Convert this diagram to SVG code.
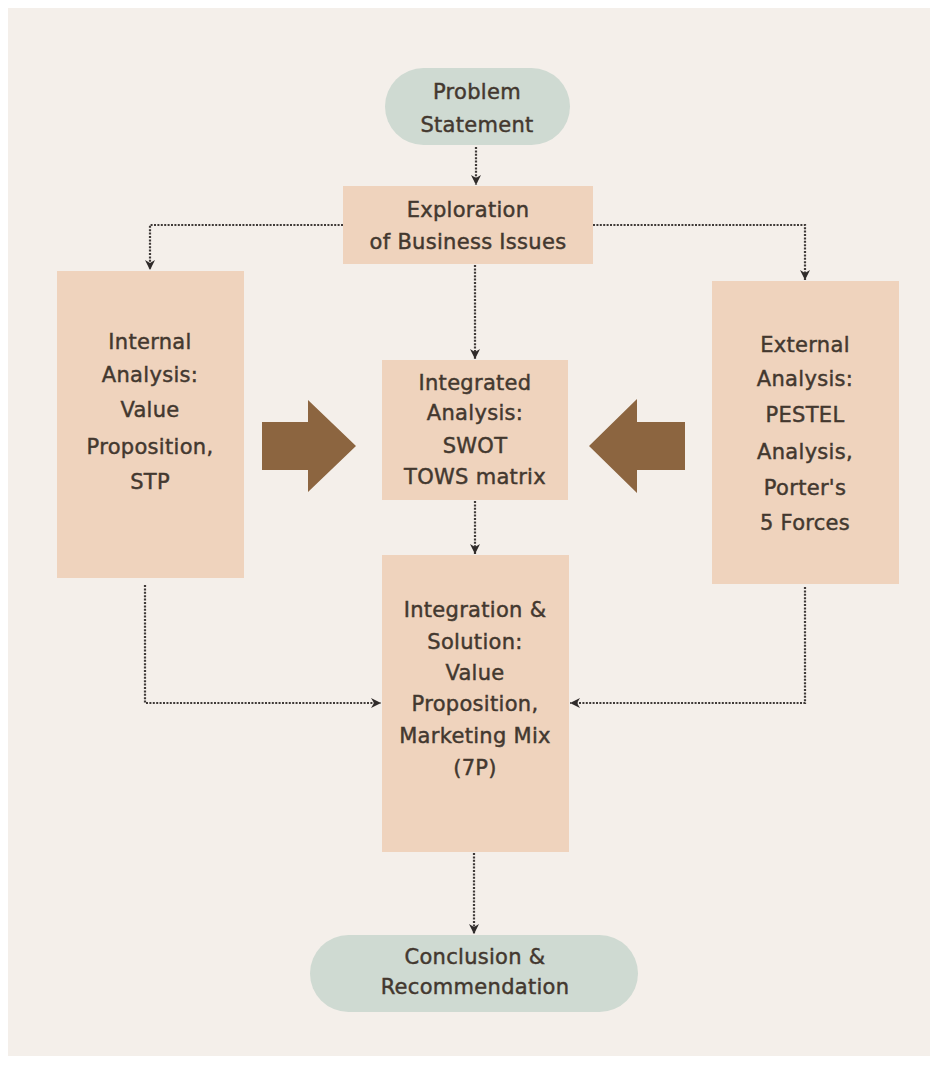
<svg xmlns="http://www.w3.org/2000/svg" width="938" height="1065" viewBox="0 0 938 1065">
  <style>
    .box { fill: #efd3bd; }
    .pill { fill: #cfdad2; }
    .t { font-family: "DejaVu Sans", "Liberation Sans", sans-serif; font-size: 21px; fill: #43382f; stroke: #43382f; stroke-width: 0.45; text-anchor: middle; letter-spacing: 0.3px; }
    .c { fill: none; stroke: #3f3a38; stroke-width: 2.2; stroke-dasharray: 2 1.4; }
    .big { fill: #8c6540; }
  </style>
  <defs>
    <marker id="ah" viewBox="0 0 10 10" refX="10" refY="5" markerWidth="10" markerHeight="10" orient="auto" markerUnits="userSpaceOnUse">
      <path d="M0,0 L10,5 L0,10 L3,5 Z" fill="#2f2b2a"/>
    </marker>
  </defs>
  <rect x="0" y="0" width="938" height="1065" fill="#ffffff"/>
  <rect x="8" y="8" width="922" height="1048" fill="#f4efea"/>

  <g id="connectors">
    <path class="c" d="M476 147 V185" marker-end="url(#ah)"/>
    <path class="c" d="M343 225 H150 V270" marker-end="url(#ah)"/>
    <path class="c" d="M593 225 H805 V280" marker-end="url(#ah)"/>
    <path class="c" d="M475 265 V359" marker-end="url(#ah)"/>
    <path class="c" d="M475 501 V554" marker-end="url(#ah)"/>
    <path class="c" d="M145 585 V703 H381" marker-end="url(#ah)"/>
    <path class="c" d="M805 587 V703 H570" marker-end="url(#ah)"/>
    <path class="c" d="M474 853 V934" marker-end="url(#ah)"/>
    <polygon class="big" points="262,422 308,422 308,400 356,446 308,492 308,470 262,470"/>
    <polygon class="big" points="685,422 637,422 637,399 589,446 637,493 637,470 685,470"/>
  </g>

  <g id="problem">
    <rect class="pill" x="385" y="68" width="185" height="77" rx="38.5"/>
    <text class="t" x="477" y="99">Problem</text>
    <text class="t" x="477" y="132">Statement</text>
  </g>

  <g id="exploration">
    <rect class="box" x="343" y="186" width="250" height="78"/>
    <text class="t" x="468" y="217">Exploration</text>
    <text class="t" x="468" y="249">of Business Issues</text>
  </g>

  <g id="internal">
    <rect class="box" x="57" y="271" width="187" height="307"/>
    <text class="t" x="150" y="349">Internal</text>
    <text class="t" x="150" y="382">Analysis:</text>
    <text class="t" x="150" y="417">Value</text>
    <text class="t" x="150" y="454">Proposition,</text>
    <text class="t" x="150" y="489">STP</text>
  </g>

  <g id="external">
    <rect class="box" x="712" y="281" width="187" height="303"/>
    <text class="t" x="805" y="352">External</text>
    <text class="t" x="805" y="386">Analysis:</text>
    <text class="t" x="805" y="422">PESTEL</text>
    <text class="t" x="805" y="459">Analysis,</text>
    <text class="t" x="805" y="495">Porter's</text>
    <text class="t" x="805" y="530">5 Forces</text>
  </g>

  <g id="integrated">
    <rect class="box" x="382" y="360" width="186" height="140"/>
    <text class="t" x="475" y="390">Integrated</text>
    <text class="t" x="475" y="420">Analysis:</text>
    <text class="t" x="475" y="453">SWOT</text>
    <text class="t" x="475" y="484">TOWS matrix</text>
  </g>

  <g id="integration">
    <rect class="box" x="382" y="555" width="187" height="297"/>
    <text class="t" x="475" y="617">Integration &amp;</text>
    <text class="t" x="475" y="649">Solution:</text>
    <text class="t" x="475" y="680">Value</text>
    <text class="t" x="475" y="711">Proposition,</text>
    <text class="t" x="475" y="743">Marketing Mix</text>
    <text class="t" x="475" y="775">(7P)</text>
  </g>

  <g id="conclusion">
    <rect class="pill" x="310" y="935" width="328" height="77" rx="38.5"/>
    <text class="t" x="475" y="964">Conclusion &amp;</text>
    <text class="t" x="475" y="994">Recommendation</text>
  </g>
</svg>
